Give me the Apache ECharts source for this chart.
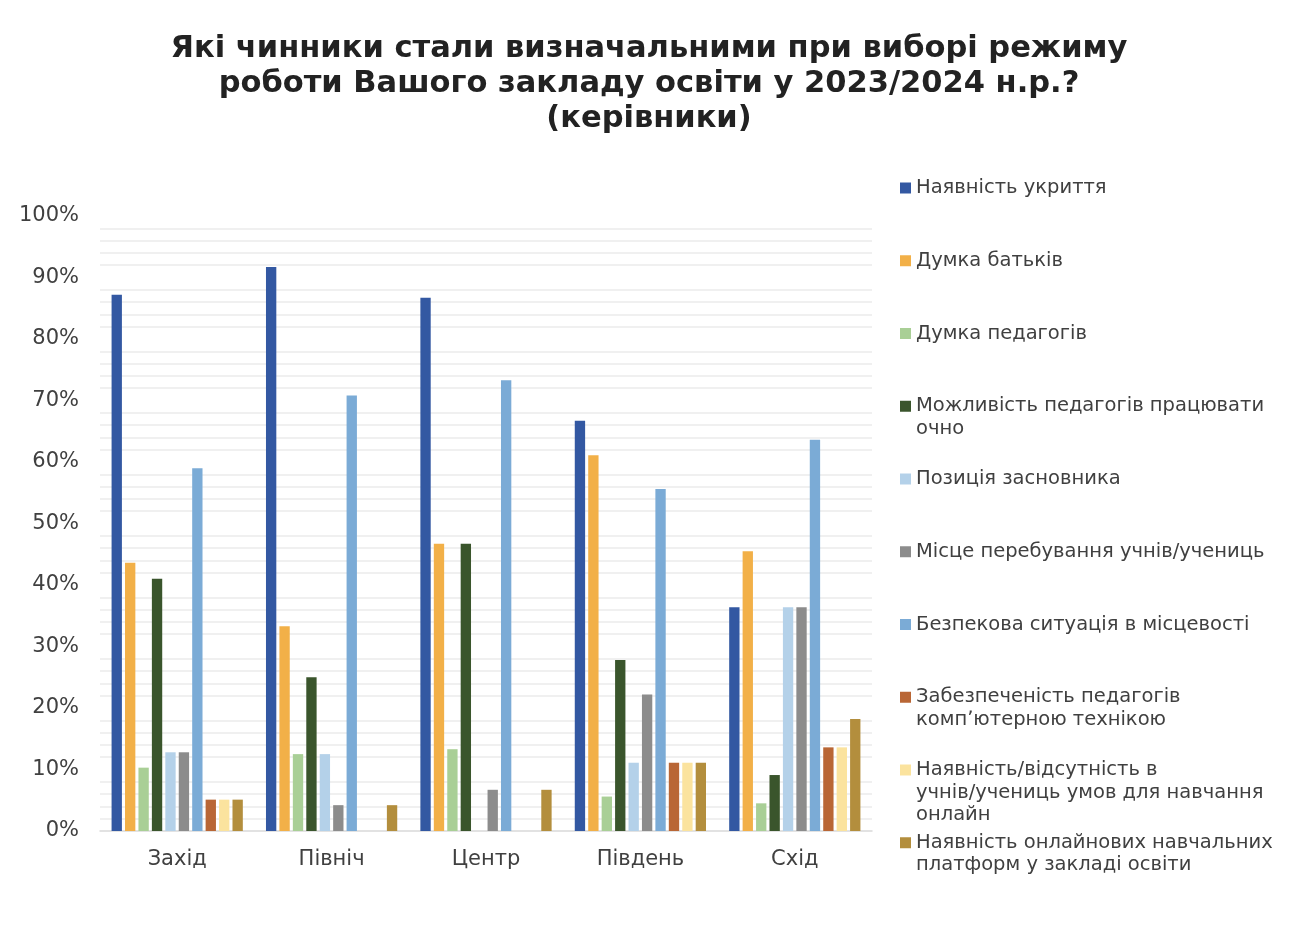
<!DOCTYPE html>
<html>
<head>
<meta charset="utf-8">
<script src="https://cdn.jsdelivr.net/npm/echarts@6/dist/echarts.min.js"></script>
<style>
html,body{margin:0;padding:0;background:#fff;}
#chart{width:1308px;height:928px;}
</style>
</head>
<body>
<div id="chart"></div>
<script>
const categories = ['Захід', 'Північ', 'Центр', 'Південь', 'Схід'];
const seriesNames = [
  'Наявність укриття',
  'Думка батьків',
  'Думка педагогів',
  'Можливість педагогів працювати очно',
  'Позиція засновника',
  'Місце перебування учнів/учениць',
  'Безпекова ситуація в місцевості',
  'Забезпеченість педагогів компʼютерною технікою',
  'Наявність/відсутність в учнів/учениць умов для навчання онлайн',
  'Наявність онлайнових навчальних платформ у закладі освіти'
];
const legendLines = [
  ['Наявність укриття'],
  ['Думка батьків'],
  ['Думка педагогів'],
  ['Можливість педагогів працювати', 'очно'],
  ['Позиція засновника'],
  ['Місце перебування учнів/учениць'],
  ['Безпекова ситуація в місцевості'],
  ['Забезпеченість педагогів', 'компʼютерною технікою'],
  ['Наявність/відсутність в', 'учнів/учениць умов для навчання', 'онлайн'],
  ['Наявність онлайнових навчальних', 'платформ у закладі освіти']
];
const shelter      = [87.2, 91.7, 86.7, 66.7, 36.4];
const parents      = [43.6, 33.3, 46.7, 61.1, 45.5];
const teachers     = [10.3, 12.5, 13.3, 5.6, 4.5];
const teachersOnsite = [41.0, 25.0, 46.7, 27.8, 9.1];
const founder      = [12.8, 12.5, 0, 11.1, 36.4];
const studentsLoc  = [12.8, 4.2, 6.7, 22.2, 36.4];
const security     = [59.0, 70.8, 73.3, 55.6, 63.6];
const computers    = [5.1, 0, 0, 11.1, 13.6];
const onlineConds  = [5.1, 0, 0, 11.1, 13.6];
const platforms    = [5.1, 4.2, 6.7, 11.1, 18.2];
const yTicks = [0, 10, 20, 30, 40, 50, 60, 70, 80, 90, 100];

const values = [shelter, parents, teachers, teachersOnsite, founder, studentsLoc, security, computers, onlineConds, platforms];
const colors = ['#3358A2', '#F2B048', '#A9CF96', '#3A552C', '#B4D1E9', '#8C8C8C', '#7BABD6', '#B96635', '#FBE39E', '#B38E3D'];

const LH = 22.5;
const legendStart = 188, legendPitch = 72.75;
const legends = seriesNames.map((name, i) => {
  const n = legendLines[i].length;
  const yc = legendStart + i * legendPitch;
  return {
    show: true,
    orient: 'vertical',
    left: 900,
    top: yc - (2 * n - 1) * LH / 2,
    padding: 0,
    icon: 'rect',
    itemWidth: 11,
    itemHeight: 11,
    selectedMode: false,
    data: [name],
    formatter: function () {
      const blanks = new Array(n - 1).fill('');
      return blanks.concat(legendLines[i]).join('\n');
    },
    textStyle: {
      fontFamily: 'DejaVu Sans',
      fontSize: 19.5,
      color: '#404040',
      lineHeight: LH
    }
  };
});

const chart = echarts.init(document.getElementById('chart'), null, {renderer: 'canvas'});
chart.setOption({
  backgroundColor: '#ffffff',
  animation: false,
  title: {
    text: 'Які чинники стали визначальними при виборі режиму\nроботи Вашого закладу освіти у 2023/2024 н.р.?\n(керівники)',
    left: 644,
    top: 27,
    textAlign: 'center',
    textStyle: {
      fontFamily: 'DejaVu Sans',
      fontWeight: 'bold',
      fontSize: 30.5,
      lineHeight: 35,
      color: '#222222'
    }
  },
  legend: legends,
  grid: {left: 100, right: 436, top: 216, bottom: 97, containLabel: false},
  xAxis: {
    type: 'category',
    data: categories,
    axisTick: {show: false},
    axisLine: {lineStyle: {color: '#d9d9d9', width: 1.5}},
    axisLabel: {fontFamily: 'DejaVu Sans', fontSize: 21, color: '#404040', margin: 18}
  },
  yAxis: {
    type: 'value',
    min: yTicks[0],
    max: yTicks[yTicks.length - 1],
    interval: 10,
    axisLine: {show: false},
    axisTick: {show: false},
    axisLabel: {formatter: '{value}%', fontFamily: 'DejaVu Sans', fontSize: 21, color: '#404040', margin: 21},
    splitLine: {show: false},
    minorTick: {show: false, splitNumber: 5},
    minorSplitLine: {show: true, lineStyle: {color: '#f0f0f0', width: 2}}
  },
  series: seriesNames.map((name, i) => ({
    name: name,
    type: 'bar',
    data: values[i],
    barGap: '30%',
    barCategoryGap: '15%',
    itemStyle: {color: colors[i]}
  }))
});
</script>
</body>
</html>
